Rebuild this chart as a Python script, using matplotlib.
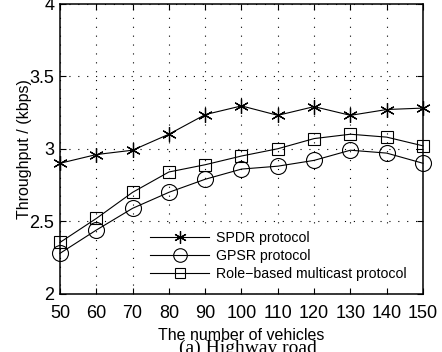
import matplotlib
matplotlib.use("Agg")
import matplotlib.pyplot as plt

vehicles = [50, 60, 70, 80, 90, 100, 110, 120, 130, 140, 150]
spdr = [2.90, 2.96, 2.99, 3.10, 3.235, 3.295, 3.23, 3.29, 3.23, 3.27, 3.28]
gpsr = [2.28, 2.44, 2.59, 2.70, 2.79, 2.86, 2.88, 2.92, 2.99, 2.97, 2.90]
role = [2.355, 2.52, 2.70, 2.84, 2.89, 2.95, 3.00, 3.07, 3.10, 3.08, 3.02]
labels = ["SPDR protocol", "GPSR protocol", "Role\u2212based multicast protocol"]
yticks = [2, 2.5, 3, 3.5, 4]
yticklabels = ["2", "2.5", "3", "3.5", "4"]

plt.rcParams['font.family'] = ['Liberation Sans', 'DejaVu Sans']

fig = plt.figure(figsize=(4.42, 3.52), dpi=100)
ax = fig.add_axes([60/442, 1-294/352, 363/442, (294-3.5)/352])

lw = 0.8
ax.plot(vehicles, spdr, color='black', lw=lw, marker=(6, 2, 0), markersize=10.5,
        markeredgewidth=0.9, label=labels[0], clip_on=False, zorder=3)
ax.plot(vehicles, gpsr, color='black', lw=lw, marker='o', markersize=11.5,
        markerfacecolor='none', markeredgewidth=0.8, label=labels[1], clip_on=False, zorder=3)
ax.plot(vehicles, role, color='black', lw=lw, marker='s', markersize=9,
        markerfacecolor='none', markeredgewidth=0.8, label=labels[2], clip_on=False, zorder=3)

ax.set_xlim(50, 150)
ax.set_ylim(2, 4)
ax.set_xticks(vehicles)
ax.set_yticks(yticks)
ax.set_yticklabels(yticklabels)
ax.tick_params(direction='in', length=4, width=0.8, labelsize=13, top=True, right=True)
ax.tick_params(axis='x', pad=8)
ax.tick_params(axis='y', pad=4)
for s in ax.spines.values():
    s.set_linewidth(1.1)
ax.grid(True, color='black', linestyle=(0, (1, 7)), linewidth=0.8)

ax.set_xlabel("The number of vehicles", fontsize=11.5, labelpad=4)
ax.set_ylabel("Throughput / (kbps)", fontsize=11.5, labelpad=-1.5)

leg = ax.legend(loc='upper left', bbox_to_anchor=(0.230, 0.239), frameon=True, fontsize=10.2,
                handlelength=4.2, handletextpad=0.5, labelspacing=0.30,
                borderpad=0.45, borderaxespad=0, fancybox=False)
leg.get_frame().set_facecolor('white')
leg.get_frame().set_edgecolor('none')
leg.get_frame().set_alpha(1.0)
for h in leg.legend_handles:
    h.set_markersize(h.get_markersize() * 0.85)

fig.text(248/442, 1-353/352, "(a) Highway road", ha='center', va='baseline',
         fontsize=14, family=['Liberation Serif', 'DejaVu Serif'])

fig.savefig("out.png", dpi=100)
